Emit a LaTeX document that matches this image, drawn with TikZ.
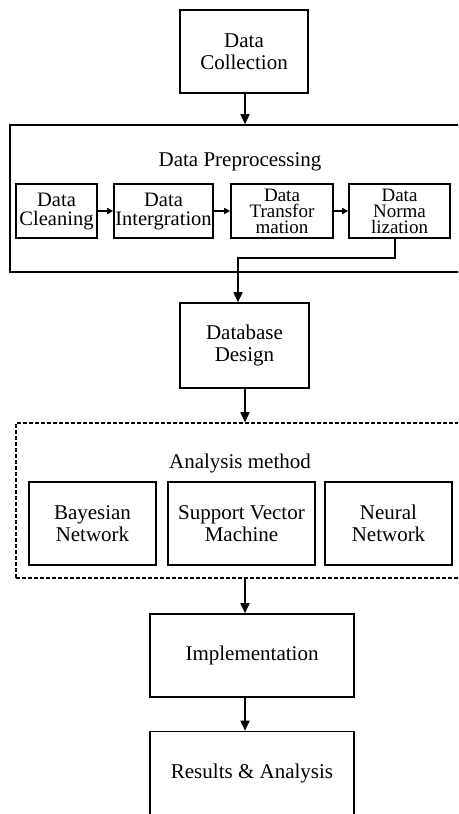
\documentclass[tikz,border=0pt]{standalone}
\usepackage{fontspec}
\setmainfont{Liberation Serif}
\usetikzlibrary{arrows.meta}
\begin{document}
\begin{tikzpicture}[x=1pt,y=-1pt,
  every node/.style={font=\fontsize{21}{22.5}\selectfont, align=center, inner sep=0pt},
  box/.style={draw, line width=1.6pt, minimum width=#1},
  inner2/.style={font=\fontsize{20.5}{19}\selectfont},
  tight/.style={font=\fontsize{19}{16}\selectfont},
  conn/.style={line width=1.6pt, -{Triangle[length=10pt,width=9pt]}},
  sconn/.style={line width=1.6pt, -{Triangle[length=6pt,width=6pt]}}
]
\useasboundingbox (0,0) rectangle (458,814);
\clip (0,0) rectangle (458,814);

% top
\node[box=128pt, minimum height=83pt] (dc) at (244,51.5) {Data\\Collection};

% preprocessing group
\node[box=465pt, minimum height=147pt] (pre) at (242.5,198.5) {};
\node (pretitle) at (240,162) {Data Preprocessing};
\node[box=81pt, minimum height=54pt, inner2] (clean) at (56.5,211) {Data\\Cleaning};
\node[box=99pt, minimum height=54pt, inner2] (integ) at (163.5,211) {Data\\Intergration};
\node[box=102pt, minimum height=54pt, tight] (trans) at (282,211) {Data\\Transfor\\mation};
\node[box=101pt, minimum height=54pt, tight] (norm) at (399.5,211) {Data\\Norma\\lization};

% database
\node[box=129pt, minimum height=85pt] (db) at (244.5,345.5) {Database\\Design};

% analysis group
\node[draw, line width=1.6pt, dash pattern=on 4pt off 2pt, minimum width=459pt, minimum height=155pt] (ana) at (245.5,500.5) {};
\node (anatitle) at (240,463) {Analysis method};
\node[box=127pt, minimum height=83pt] (bayes) at (92.5,523.5) {Bayesian\\Network};
\node[box=147pt, minimum height=83pt] (svm) at (241.5,523.5) {Support Vector\\Machine};
\node[box=127pt, minimum height=83pt] (nn) at (388.5,523.5) {Neural\\Network};

% implementation and results
\node[box=204pt, minimum height=83pt] (impl) at (252,655.5) {Implementation};
\node[box=204pt, minimum height=83pt] (res) at (252,773) {Results \& Analysis};

% connectors
\coordinate (ax) at (245,0);
\coordinate (bend) at (238,258);
\draw[conn] (ax |- dc.south) -- (ax |- pre.north);
\draw[sconn] (clean) -- (integ);
\draw[sconn] (integ) -- (trans);
\draw[sconn] (trans) -- (norm);
\draw[conn] ([xshift=-4.5pt]norm.south) |- (bend) -- (bend |- db.north);
\draw[conn] (ax |- db.south) -- (ax |- ana.north);
\draw[conn] (ax |- ana.south) -- (ax |- impl.north);
\draw[conn] (ax |- impl.south) -- (ax |- res.north);
\end{tikzpicture}
\end{document}
